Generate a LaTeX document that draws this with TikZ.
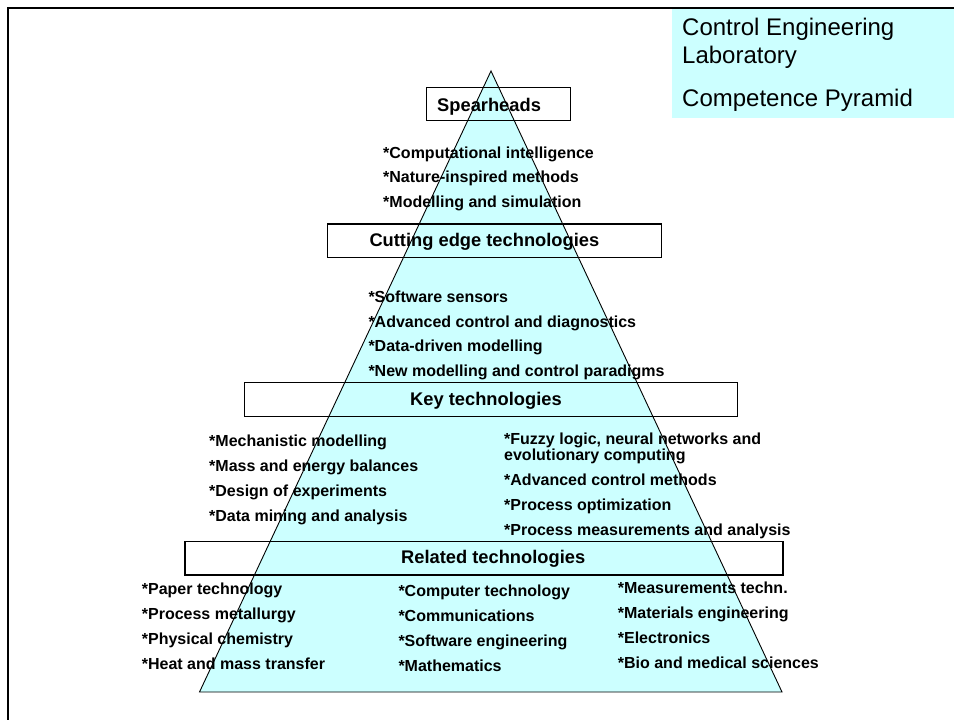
\documentclass[tikz,border=0pt]{standalone}
\usepackage{fontspec}
\setmainfont{Liberation Sans}
\definecolor{pyramidfill}{HTML}{CCFFFF}
\begin{document}
\begin{tikzpicture}[x=1pt,y=-1pt,
  item/.style={anchor=base west, inner sep=0pt, align=left,
    font=\fontsize{16}{14.7}\selectfont\bfseries},
  heading/.style={anchor=base west, inner sep=0pt,
    font=\fontsize{18.3}{20}\selectfont\bfseries},
  tierbox/.style={draw, line width=1.2pt, anchor=north west, inner sep=0pt},
  titletext/.style={anchor=base west, inner sep=0pt,
    font=\fontsize{24}{28}\selectfont}]
\useasboundingbox (0,0) rectangle (954,720);

% page frame
\draw[line width=2pt] (8,720) -- (8,8) -- (954,8);

% title panel
\node[fill=pyramidfill, anchor=north west, inner sep=0pt,
      minimum width=282pt, minimum height=109pt] (titlepanel) at (672,9) {};
\node[titletext] (t1) at (682,35) {Control Engineering};
\node[titletext] (t2) at (682,63) {Laboratory};
\node[titletext] (t3) at (682,106) {Competence Pyramid};

% pyramid
\coordinate (apex) at (491,71);
\coordinate (bl) at (199.5,692);
\coordinate (br) at (782,692);
\filldraw[fill=pyramidfill, draw=black, line width=0.9pt] (apex) -- (br) -- (bl) -- cycle;

% tier boxes
\node[tierbox, minimum width=144pt, minimum height=33pt] (spbox) at (426,87) {};
\node[tierbox, minimum width=334pt, minimum height=33.5pt] (cebox) at (327,223.3) {};
\node[tierbox, minimum width=493pt, minimum height=33.5pt] (ktbox) at (244,382) {};
\node[tierbox, minimum width=598pt, minimum height=33.3pt] (rtbox) at (184.3,541) {};

% tier headings
\node[heading] (sp) at (437,111) {Spearheads};
\node[heading] (ce) at (369.3,246.7) {Cutting edge technologies};
\node[heading] (kt) at (410,405.5) {Key technologies};
\node[heading] (rt) at (401,563.5) {Related technologies};

% spearheads
\node[item] (s1) at (383,158.3) {*Computational intelligence};
\node[item] (s2) at (383,182.8) {*Nature-inspired methods};
\node[item] (s3) at (383,207.5) {*Modelling and simulation};

% cutting edge technologies
\node[item] (c1) at (368.3,302.3) {*Software sensors};
\node[item] (c2) at (368.3,327.2) {*Advanced control and diagnostics};
\node[item] (c3) at (368.3,351.8) {*Data-driven modelling};
\node[item] (c4) at (368.3,376.7) {*New modelling and control paradigms};

% key technologies, left column
\node[item] (k1) at (209,446) {*Mechanistic modelling};
\node[item] (k2) at (209,471) {*Mass and energy balances};
\node[item] (k3) at (209,496) {*Design of experiments};
\node[item] (k4) at (209,521) {*Data mining and analysis};

% key technologies, right column (two-line item sits on its last baseline)
\node[item] (k5) at (504,460.7) {*Fuzzy logic, neural networks and\\evolutionary computing};
\node[item] (k6) at (504,485.7) {*Advanced control methods};
\node[item] (k7) at (504,510.7) {*Process optimization};
\node[item] (k8) at (504,535.7) {*Process measurements and analysis};

% related technologies
\node[item] (r1) at (141.7,594.3) {*Paper technology};
\node[item] (r2) at (141.7,619.2) {*Process metallurgy};
\node[item] (r3) at (141.7,644) {*Physical chemistry};
\node[item] (r4) at (141.7,669) {*Heat and mass transfer};

\node[item] (r5) at (398.3,596.7) {*Computer technology};
\node[item] (r6) at (398.3,621.7) {*Communications};
\node[item] (r7) at (398.3,646.5) {*Software engineering};
\node[item] (r8) at (398.3,671) {*Mathematics};

\node[item] (r9) at (617.7,593.3) {*Measurements techn.};
\node[item] (r10) at (617.7,618.3) {*Materials engineering};
\node[item] (r11) at (617.7,643.3) {*Electronics};
\node[item] (r12) at (617.7,668.3) {*Bio and medical sciences};
\end{tikzpicture}
\end{document}
